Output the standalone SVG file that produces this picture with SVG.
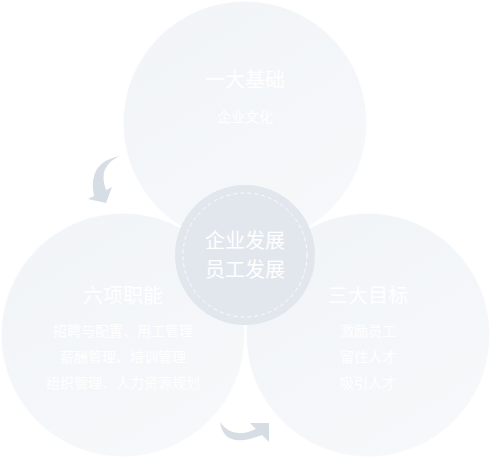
<svg xmlns="http://www.w3.org/2000/svg" width="490" height="458" viewBox="0 0 490 458">
<style>
.big{fill:url(#g);stroke:#ffffff;stroke-width:1.5;stroke-opacity:0.7}
.t{font-family:"Noto Sans CJK SC","Noto Sans",sans-serif;fill:#ffffff;text-anchor:middle}
.h{font-size:20px}
.s{font-size:14px}
.c{font-size:20px}
.arr{fill:#d6dde5}
</style>
<defs>
<linearGradient id="g" x1="0" y1="0" x2="0.6" y2="1">
<stop offset="0" stop-color="#f1f4f8"/>
<stop offset="1" stop-color="#f6f8fa"/>
</linearGradient>
</defs>
<rect width="490" height="458" fill="#ffffff"/>
<g id="node-top">
<circle class="big" cx="245" cy="123" r="122"/>
<text class="t h" x="245" y="87">一大基础</text>
<text class="t s" x="245" y="122">企业文化</text>
</g>
<g id="node-left">
<circle class="big" cx="123" cy="335" r="122"/>
<text class="t h" x="123" y="303">六项职能</text>
<text class="t s" x="123" y="336">招聘与配置、用工管理</text>
<text class="t s" x="123" y="362">薪酬管理、培训管理</text>
<text class="t s" x="123" y="388">组织管理、人力资源规划</text>
</g>
<g id="node-right">
<circle class="big" cx="368" cy="335" r="122"/>
<text class="t h" x="368" y="303">三大目标</text>
<text class="t s" x="368" y="336">激励员工</text>
<text class="t s" x="368" y="362">留住人才</text>
<text class="t s" x="368" y="388">吸引人才</text>
</g>
<g id="node-center">
<circle cx="245" cy="255" r="70" fill="#e2e7ee"/>
<circle cx="245" cy="255" r="62" fill="none" stroke="#ffffff" stroke-opacity="0.8" stroke-width="1" stroke-dasharray="4 3"/>
<text class="t c" x="245" y="248">企业发展</text>
<text class="t c" x="245" y="277">员工发展</text>
</g>
<g id="connectors">
<path class="arr" d="M120,156 Q87,162 94,196 L88,199 L106,203 L112,187 L106,190 Q97,166 120,156 Z"/>
<path class="arr" d="M220,422 Q224,450 262,435 L269,442 L269,423 L250,423 L256,429 Q232,440 220,422 Z"/>
</g>
</svg>
